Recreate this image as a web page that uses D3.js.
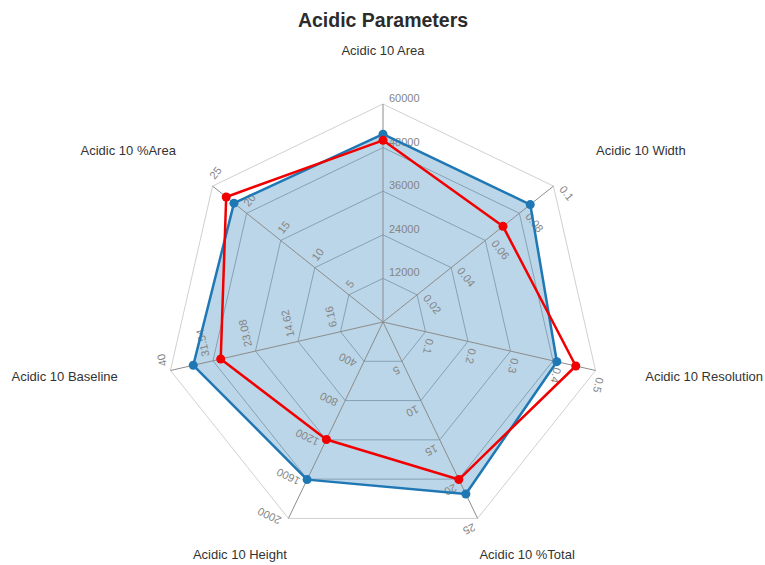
<!DOCTYPE html>
<html>
<head>
<meta charset="utf-8">
<script src="https://cdn.jsdelivr.net/npm/d3@7"></script>
<style>
  html, body { margin: 0; padding: 0; background: #fff; }
  svg { display: block; font-family: "Liberation Sans", Arial, sans-serif; }
</style>
</head>
<body>
<svg id="chart" width="765" height="565"></svg>
<script>
// ---- data ----
const title = "Acidic Parameters";
const axes = ["Acidic 10 Area", "Acidic 10 Width", "Acidic 10 Resolution", "Acidic 10 %Total",
              "Acidic 10 Height", "Acidic 10 Baseline", "Acidic 10 %Area"];
const axisMin = [0, 0, 0, 0, 0, -2.3, 0];
const axisMax = [60000, 0.1, 0.5, 25, 2000, 40, 25];
const tickLabels = [
  ["12000", "24000", "36000", "48000", "60000"],
  ["0.02", "0.04", "0.06", "0.08", "0.1"],
  ["0.1", "0.2", "0.3", "0.4", "0.5"],
  ["5", "10", "15", "20", "25"],
  ["400", "800", "1200", "1600", "2000"],
  ["6.16", "14.62", "23.08", "31.54", "40"],
  ["5", "10", "15", "20", "25"]
];
const seriesBlue = [51700, 0.0864, 0.409, 21.9, 1605, 35.46, 21.86];
const seriesRed  = [50000, 0.0704, 0.4535, 20.05, 1197, 30.0, 23.0];

// ---- layout ----
const cx = 383, cy = 322, R = 218, levels = 5;
const labelRadius = 270;
const labelNudge = [[0, 0], [2, -2], [-1, -4.5], [27, -10], [-26, -10], [-2, -4.5], [4, -2]];

const svg = d3.select("#chart");
const n = axes.length;
const angle = i => i * 2 * Math.PI / n;
const dir = i => [Math.sin(angle(i)), -Math.cos(angle(i))];
const scales = axes.map((a, i) => d3.scaleLinear().domain([axisMin[i], axisMax[i]]).range([0, R]));

const g = svg.append("g").attr("transform", `translate(${cx},${cy})`);

// grid polygons
const rScale = d3.scaleLinear().domain([0, levels]).range([0, R]);
for (let l = 1; l <= levels; l++) {
  const pts = d3.range(n).map(i => { const d = dir(i); return [d[0] * rScale(l), d[1] * rScale(l)]; });
  g.append("polygon")
    .attr("points", pts.map(p => p.join(",")).join(" "))
    .attr("fill", "none")
    .attr("stroke", l === levels ? "#d0d0d0" : "#b4b4b4")
    .attr("stroke-width", 1);
}

// series
const lineGen = d3.lineRadial().curve(d3.curveLinearClosed);
function drawSeriesFill(vals, color) {
  const pts = vals.map((v, i) => [angle(i), scales[i](v)]);
  g.append("path")
    .attr("d", lineGen(pts))
    .attr("fill", color)
    .attr("fill-opacity", 0.3)
    .attr("stroke", "none");
}
function drawSeriesLine(vals, color) {
  const pts = vals.map((v, i) => [angle(i), scales[i](v)]);
  g.append("path")
    .attr("d", lineGen(pts))
    .attr("fill", "none")
    .attr("stroke", color)
    .attr("stroke-width", 2.5)
    .attr("stroke-linejoin", "round");
  g.selectAll(null).data(vals).enter().append("circle")
    .attr("cx", (v, i) => dir(i)[0] * scales[i](v))
    .attr("cy", (v, i) => dir(i)[1] * scales[i](v))
    .attr("r", 4.5)
    .attr("fill", color);
}

drawSeriesFill(seriesBlue, "#1f77b4");

// spokes
d3.range(n).forEach(i => {
  const d = dir(i);
  g.append("line")
    .attr("x1", 0).attr("y1", 0)
    .attr("x2", d[0] * R).attr("y2", d[1] * R)
    .attr("stroke", "#8c8c8c").attr("stroke-width", 1);
});

// tick labels (under the series lines)
d3.range(n).forEach(i => {
  const d = dir(i);
  const deg = angle(i) * 180 / Math.PI;
  tickLabels[i].forEach((t, k) => {
    const r = rScale(k + 1);
    g.append("text")
      .attr("transform", `translate(${d[0] * r},${d[1] * r}) rotate(${deg})`)
      .attr("x", 6).attr("y", -5)
      .attr("dominant-baseline", "middle")
      .attr("text-anchor", "start")
      .attr("font-size", 11)
      .attr("fill", "#858585")
      .text(t);
  });
});

drawSeriesLine(seriesBlue, "#1f77b4");
drawSeriesLine(seriesRed, "#f00000");

// axis names
d3.range(n).forEach(i => {
  const d = dir(i);
  let anchor = "middle";
  if (d[1] < 0.5) {
    if (d[0] > 0.05) anchor = "start";
    else if (d[0] < -0.05) anchor = "end";
  }
  g.append("text")
    .attr("x", d[0] * labelRadius + labelNudge[i][0])
    .attr("y", d[1] * labelRadius + labelNudge[i][1])
    .attr("text-anchor", anchor)
    .attr("dominant-baseline", "middle")
    .attr("font-size", 13)
    .attr("fill", "#333")
    .text(axes[i]);
});

// title
svg.append("text")
  .attr("x", cx).attr("y", 27)
  .attr("text-anchor", "middle")
  .attr("font-size", 19.5)
  .attr("font-weight", "bold")
  .attr("fill", "#2b2b2b")
  .text(title);
</script>
</body>
</html>
